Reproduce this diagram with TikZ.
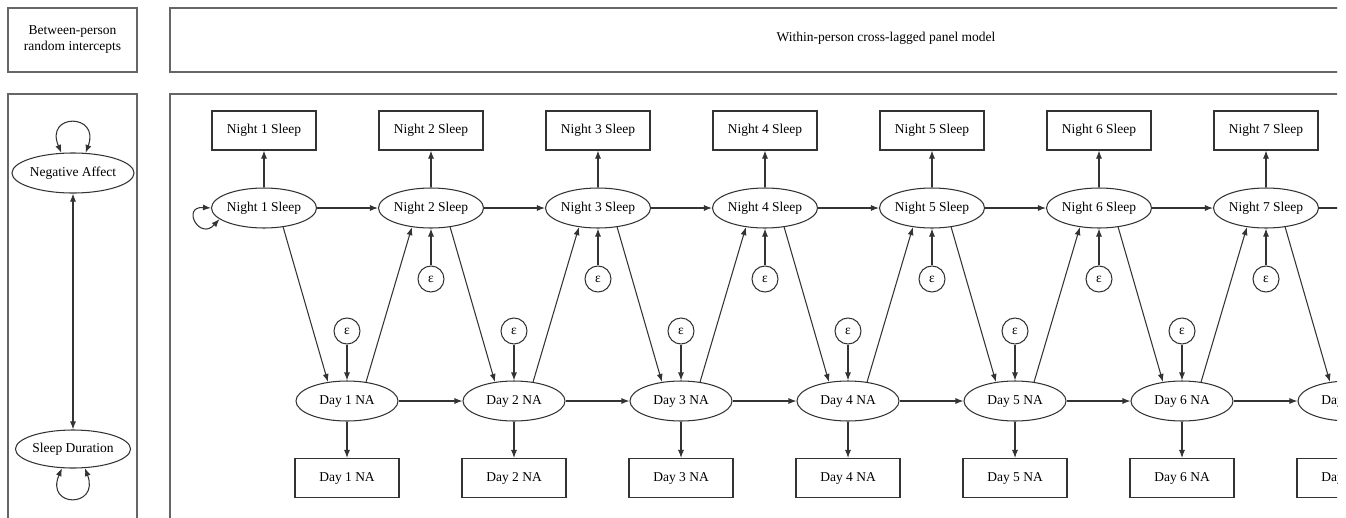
\documentclass[tikz,border=0pt]{standalone}
\usepackage{fontspec}
\setmainfont{Liberation Serif}
\usetikzlibrary{arrows.meta,shapes.geometric}
\tikzset{
  lc/.style={draw=black!80, line width=1.05pt},
  panel/.style={draw=black!60, line width=1.4pt},
  obs/.style={lc, rectangle, minimum width=104pt, minimum height=39pt, inner sep=0pt},
  lat/.style={lc, ellipse, minimum width=102pt, minimum height=40pt, inner sep=0pt},
  eps/.style={lc, circle, minimum size=26pt, inner sep=0pt},
  arr/.style={lc, -{Latex[length=8pt,width=6pt]}},
  darr/.style={lc, {Latex[length=8pt,width=6pt]}-{Latex[length=8pt,width=6pt]}},
}
\begin{document}
\begin{tikzpicture}[x=1pt,y=-1pt, every node/.style={font=\fontsize{13.5}{16}\selectfont}]
\useasboundingbox[fill=white] (0,0) rectangle (1346,517);
\begin{scope}
\clip (0,0) rectangle (1337,517);
% panels
\draw[panel] (8,8) rectangle (137,72);
\draw[panel] (8,94) rectangle (137,540);
\draw[panel] (170,8) rectangle (1700,72);
\draw[panel] (170,94) rectangle (1700,540);
\node[align=center] (bph) at (72.5,40) {Between-person\\random intercepts};
\node (wph) at (886,38) {Within-person cross-lagged panel model};
% between-person part
\node[lat, minimum width=106pt] (na) at (73,173) {Negative Affect};
\node[lat, minimum width=106pt, minimum height=38pt] (sd) at (73,449) {Sleep Duration};
\draw[darr] (na) -- (sd);
\draw[darr] (na.120) .. controls +(-17,-40) and +(15,-40) .. (na.58);
\draw[darr] (sd.-120) .. controls +(-17,40) and +(15,40) .. (sd.-58);
% within-person nodes
\foreach \k in {1,...,8}{
  \pgfmathsetmacro{\xn}{264+167*(\k-1)}
  \pgfmathsetmacro{\xd}{347+167*(\k-1)}
  \node[lat] (ns\k) at (\xn,208) {Night \k{} Sleep};
  \node[obs] (nb\k) at (\xn,130.5) {Night \k{} Sleep};
  \node[lat] (ds\k) at (\xd,401) {Day \k{} NA};
  \node[obs] (db\k) at (\xd,478) {Day \k{} NA};
}
\foreach \k in {1,...,6}{
  \pgfmathsetmacro{\xd}{347+167*(\k-1)}
  \node[eps] (de\k) at (\xd,331) {ε};
  \draw[arr] (de\k) -- (ds\k);
}
\foreach \k in {2,...,7}{
  \pgfmathsetmacro{\xn}{264+167*(\k-1)}
  \node[eps] (ne\k) at (\xn,279) {ε};
  \draw[arr] (ne\k) -- (ns\k);
}
% within-person edges
\foreach \k in {1,...,8}{
  \draw[arr] (ns\k) -- (nb\k);
  \draw[arr] (ds\k) -- (db\k);
  \draw[arr] (ns\k.-45) -- (ds\k.135);
}
\foreach \k [evaluate=\k as \j using int(\k+1)] in {1,...,7}{
  \draw[arr] (ns\k) -- (ns\j);
  \draw[arr] (ds\k) -- (ds\j);
  \draw[arr] (ds\k.45) -- (ns\j.-135);
}
\draw[darr] (ns1.west) .. controls +(-30,-2) and +(-20,22) .. (ns1.-166);
\end{scope}
\end{tikzpicture}
\end{document}
